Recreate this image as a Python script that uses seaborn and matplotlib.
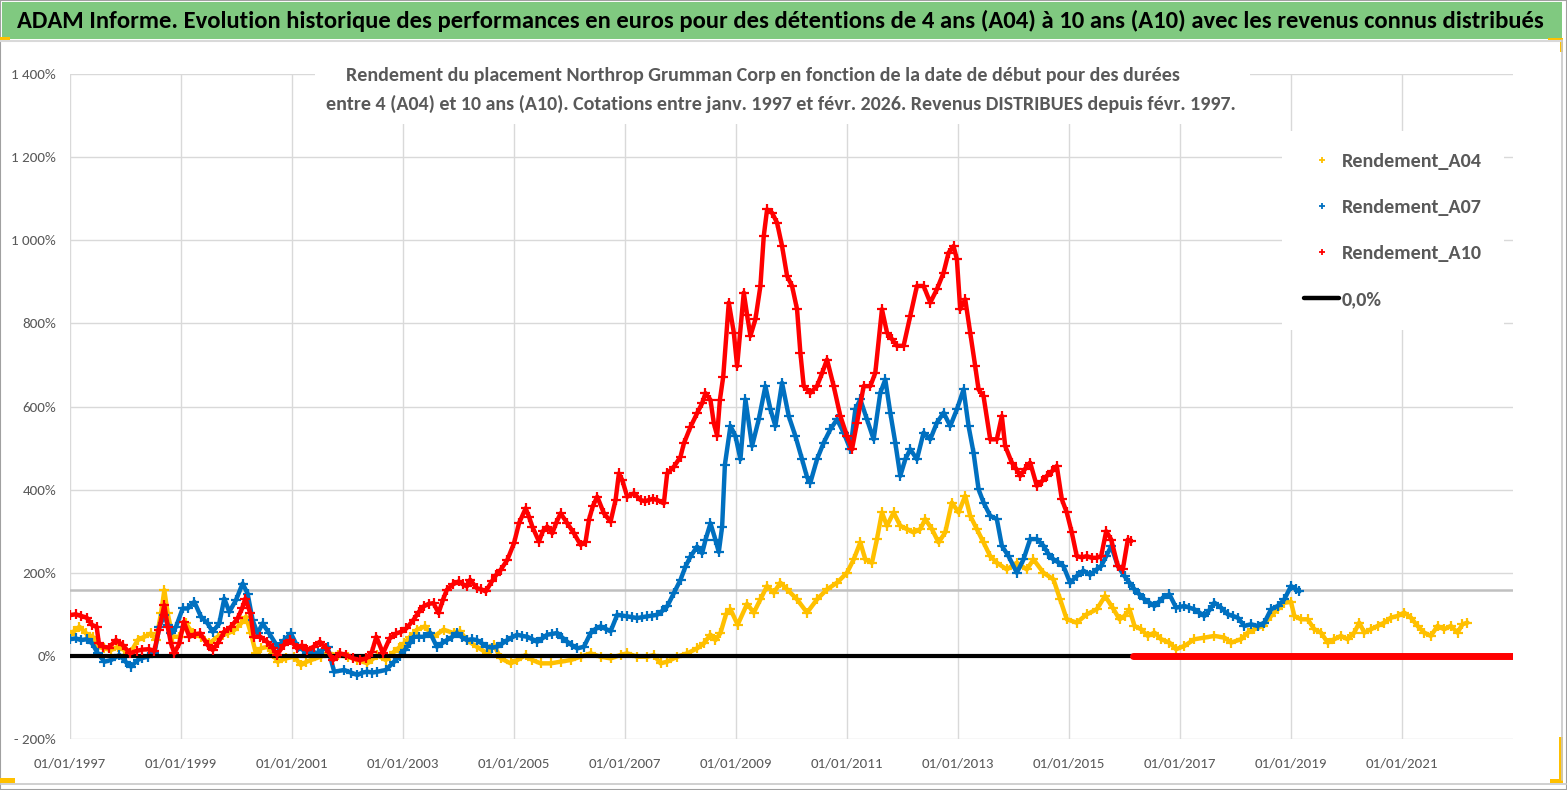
import matplotlib
matplotlib.use("Agg")
import matplotlib.pyplot as plt
import matplotlib.font_manager as fm
from matplotlib.patches import Rectangle
from matplotlib.lines import Line2D
import seaborn as sns
import pandas as pd

# ---------------- DATA ----------------
# (start date as decimal year, return in %)
a04_points = [
    (1997.00, 50), (1997.08, 60), (1997.17, 70), (1997.29, 54), (1997.41, 46), (1997.50, 22),
    (1997.62, 18), (1997.74, 14), (1997.86, 22), (1997.98, 14), (1998.10, 10), (1998.22, 38),
    (1998.34, 46), (1998.46, 54), (1998.55, 38), (1998.64, 102), (1998.70, 158), (1998.76, 102),
    (1998.85, 46), (1998.97, 46), (1999.09, 78), (1999.21, 54), (1999.36, 46), (1999.51, 30),
    (1999.66, 46), (1999.75, 50), (1999.84, 54), (1999.96, 62), (2000.08, 78), (2000.17, 94),
    (2000.26, 54), (2000.35, 6), (2000.44, 18), (2000.56, 22), (2000.65, 5), (2000.74, -14),
    (2000.89, -6), (2001.04, -2), (2001.16, -22), (2001.25, -15), (2001.34, -10), (2001.52, -2),
    (2001.64, 6), (2001.82, 2), (2002.00, -2), (2002.18, -10), (2002.36, -18), (2002.45, -8),
    (2002.54, 2), (2002.69, -10), (2002.84, 10), (2002.93, 20), (2003.02, 30), (2003.13, 46),
    (2003.25, 63), (2003.40, 71), (2003.55, 46), (2003.73, 63), (2003.91, 55), (2004.03, 59),
    (2004.15, 38), (2004.33, 22), (2004.52, 6), (2004.64, 26), (2004.76, -6), (2004.94, -18),
    (2005.06, -10), (2005.21, 2), (2005.33, -10), (2005.48, -18), (2005.66, -18), (2005.84, -14),
    (2006.02, -10), (2006.20, -2), (2006.38, 6), (2006.56, -2), (2006.74, -6), (2006.92, 2),
    (2007.04, 6), (2007.22, -2), (2007.40, -2), (2007.52, 2), (2007.64, -18), (2007.76, -14),
    (2007.94, -2), (2008.12, 6), (2008.30, 18), (2008.42, 30), (2008.54, 51), (2008.63, 38),
    (2008.72, 55), (2008.82, 100), (2008.90, 112), (2009.03, 75), (2009.20, 125), (2009.32, 104),
    (2009.44, 136), (2009.56, 168), (2009.68, 152), (2009.80, 176), (2009.92, 160), (2010.10, 136),
    (2010.28, 104), (2010.46, 136), (2010.64, 160), (2010.82, 176), (2011.00, 200), (2011.12, 232),
    (2011.24, 273), (2011.33, 232), (2011.45, 224), (2011.54, 281), (2011.63, 345), (2011.72, 313),
    (2011.84, 345), (2011.96, 313), (2012.08, 305), (2012.20, 297), (2012.32, 305), (2012.41, 329),
    (2012.53, 305), (2012.65, 273), (2012.77, 297), (2012.89, 369), (2013.01, 345), (2013.13, 385),
    (2013.22, 337), (2013.34, 305), (2013.46, 273), (2013.58, 240), (2013.70, 224), (2013.88, 208),
    (2014.06, 224), (2014.24, 208), (2014.36, 232), (2014.54, 200), (2014.72, 184), (2014.84, 136),
    (2014.96, 88), (2015.14, 80), (2015.32, 100), (2015.50, 112), (2015.65, 144), (2015.79, 115),
    (2015.91, 88), (2016.00, 96), (2016.09, 112), (2016.18, 72), (2016.30, 64), (2016.42, 48),
    (2016.54, 56), (2016.66, 40), (2016.81, 32), (2016.93, 16), (2017.08, 24), (2017.26, 40),
    (2017.44, 44), (2017.62, 48), (2017.80, 44), (2017.92, 32), (2018.10, 40), (2018.22, 56),
    (2018.34, 64), (2018.49, 72), (2018.64, 96), (2018.76, 112), (2018.88, 128), (2019.00, 130),
    (2019.06, 96), (2019.18, 88), (2019.30, 88), (2019.42, 64), (2019.54, 56), (2019.66, 32),
    (2019.78, 40), (2019.90, 48), (2020.02, 40), (2020.14, 56), (2020.23, 80), (2020.32, 56),
    (2020.44, 64), (2020.56, 72), (2020.68, 80), (2020.80, 92), (2020.92, 96), (2021.04, 104),
    (2021.16, 92), (2021.28, 72), (2021.40, 56), (2021.52, 48), (2021.64, 72), (2021.76, 64),
    (2021.88, 72), (2022.00, 56), (2022.09, 76), (2022.18, 80),
]

a07_points = [
    (1997.00, 40), (1997.10, 42), (1997.20, 38), (1997.30, 40), (1997.40, 30), (1997.50, 6),
    (1997.62, -14), (1997.74, -10), (1997.89, 2), (1998.00, -14), (1998.10, -26), (1998.22, -10),
    (1998.30, -5), (1998.40, -2), (1998.52, 6), (1998.61, 70), (1998.70, 98), (1998.76, 75),
    (1998.82, 54), (1998.91, 70), (1999.03, 114), (1999.12, 114), (1999.24, 130), (1999.36, 94),
    (1999.48, 78), (1999.57, 58), (1999.69, 78), (1999.78, 138), (1999.87, 106), (1999.99, 134),
    (2000.11, 174), (2000.20, 150), (2000.29, 86), (2000.38, 54), (2000.47, 78), (2000.59, 54),
    (2000.74, 22), (2000.86, 38), (2000.98, 54), (2001.10, 22), (2001.19, 15), (2001.28, 6),
    (2001.37, 10), (2001.46, 6), (2001.55, 15), (2001.64, 22), (2001.76, -38), (2001.94, -34),
    (2002.06, -40), (2002.18, -46), (2002.27, -40), (2002.36, -38), (2002.45, -40), (2002.54, -38),
    (2002.69, -34), (2002.84, -14), (2002.94, 0), (2003.03, 14), (2003.12, 30), (2003.19, 46),
    (2003.28, 46), (2003.37, 46), (2003.49, 55), (2003.61, 22), (2003.70, 30), (2003.79, 38),
    (2003.88, 45), (2003.97, 55), (2004.06, 45), (2004.15, 38), (2004.24, 40), (2004.33, 38),
    (2004.42, 30), (2004.52, 22), (2004.61, 20), (2004.70, 22), (2004.79, 30), (2004.88, 38),
    (2004.97, 45), (2005.06, 51), (2005.15, 48), (2005.24, 46), (2005.33, 40), (2005.42, 34),
    (2005.51, 42), (2005.60, 51), (2005.69, 53), (2005.78, 55), (2005.87, 44), (2005.96, 34),
    (2006.05, 25), (2006.14, 18), (2006.26, 22), (2006.38, 55), (2006.47, 65), (2006.56, 71),
    (2006.65, 65), (2006.74, 59), (2006.86, 99), (2006.95, 97), (2007.04, 95), (2007.13, 93),
    (2007.22, 91), (2007.31, 93), (2007.40, 95), (2007.49, 97), (2007.58, 99), (2007.67, 108),
    (2007.76, 119), (2007.88, 151), (2008.00, 183), (2008.09, 215), (2008.18, 239), (2008.30, 263),
    (2008.39, 247), (2008.45, 279), (2008.54, 319), (2008.63, 279), (2008.69, 250), (2008.75, 311),
    (2008.80, 460), (2008.90, 553), (2008.99, 529), (2009.08, 473), (2009.17, 617), (2009.29, 505),
    (2009.41, 569), (2009.53, 649), (2009.62, 593), (2009.71, 553), (2009.83, 657), (2009.95, 577),
    (2010.07, 529), (2010.19, 473), (2010.28, 430), (2010.34, 417), (2010.46, 473), (2010.58, 513),
    (2010.70, 545), (2010.82, 569), (2010.94, 537), (2011.06, 497), (2011.15, 593), (2011.24, 617),
    (2011.36, 569), (2011.48, 521), (2011.60, 633), (2011.69, 665), (2011.78, 585), (2011.87, 513),
    (2011.96, 433), (2012.05, 473), (2012.14, 497), (2012.26, 473), (2012.38, 537), (2012.50, 521),
    (2012.62, 561), (2012.74, 585), (2012.86, 553), (2012.98, 593), (2013.10, 641), (2013.19, 553),
    (2013.28, 489), (2013.37, 401), (2013.46, 369), (2013.58, 337), (2013.70, 329), (2013.79, 265),
    (2013.91, 240), (2014.06, 200), (2014.18, 232), (2014.30, 281), (2014.42, 281), (2014.54, 265),
    (2014.63, 245), (2014.72, 232), (2014.81, 225), (2014.90, 216), (2015.02, 176), (2015.14, 192),
    (2015.26, 205), (2015.38, 195), (2015.50, 208), (2015.58, 216), (2015.67, 240), (2015.76, 264),
    (2015.88, 216), (2016.00, 192), (2016.09, 176), (2016.18, 160), (2016.27, 148), (2016.36, 136),
    (2016.45, 128), (2016.54, 120), (2016.62, 130), (2016.69, 140), (2016.81, 148), (2016.93, 116),
    (2017.00, 118), (2017.08, 120), (2017.17, 116), (2017.26, 112), (2017.35, 104), (2017.44, 96),
    (2017.53, 110), (2017.62, 128), (2017.74, 116), (2017.86, 100), (2017.95, 96), (2018.04, 92),
    (2018.16, 72), (2018.28, 76), (2018.40, 72), (2018.52, 80), (2018.64, 112), (2018.76, 120),
    (2018.88, 136), (2019.00, 168), (2019.09, 160), (2019.15, 155),
]

a10_points = [
    (1997.00, 98), (1997.10, 100), (1997.20, 96), (1997.30, 92), (1997.40, 74), (1997.48, 70),
    (1997.52, 30), (1997.60, 22), (1997.70, 20), (1997.83, 38), (1997.95, 26), (1998.08, 6),
    (1998.20, 12), (1998.30, 15), (1998.42, 16), (1998.52, 12), (1998.60, 62), (1998.70, 122),
    (1998.76, 70), (1998.82, 30), (1998.88, 6), (1998.97, 30), (1999.05, 82), (1999.15, 46),
    (1999.25, 52), (1999.35, 54), (1999.48, 26), (1999.57, 14), (1999.66, 30), (1999.78, 58),
    (1999.90, 70), (2000.02, 90), (2000.10, 114), (2000.16, 138), (2000.25, 102), (2000.31, 46),
    (2000.43, 46), (2000.55, 34), (2000.65, 20), (2000.73, 2), (2000.85, 26), (2000.97, 38),
    (2001.09, 18), (2001.18, 25), (2001.27, 14), (2001.39, 22), (2001.50, 34), (2001.62, 18),
    (2001.74, -10), (2001.86, 6), (2001.98, 2), (2002.10, -6), (2002.22, -10), (2002.34, -6),
    (2002.44, 10), (2002.52, 46), (2002.64, 6), (2002.76, 42), (2002.88, 54), (2002.97, 58),
    (2003.06, 66), (2003.19, 87), (2003.28, 105), (2003.37, 119), (2003.46, 125), (2003.55, 127),
    (2003.64, 103), (2003.72, 135), (2003.79, 159), (2003.90, 172), (2004.00, 179), (2004.08, 172),
    (2004.15, 167), (2004.21, 183), (2004.33, 163), (2004.41, 160), (2004.49, 155), (2004.60, 179),
    (2004.68, 195), (2004.76, 207), (2004.88, 231), (2005.00, 271), (2005.09, 319), (2005.21, 355),
    (2005.27, 335), (2005.33, 311), (2005.45, 275), (2005.52, 300), (2005.60, 311), (2005.69, 295),
    (2005.76, 320), (2005.84, 343), (2005.96, 319), (2006.08, 295), (2006.20, 267), (2006.29, 275),
    (2006.35, 327), (2006.42, 360), (2006.50, 383), (2006.62, 343), (2006.74, 323), (2006.83, 375),
    (2006.89, 439), (2006.95, 423), (2007.04, 383), (2007.16, 391), (2007.28, 375), (2007.36, 372),
    (2007.43, 375), (2007.50, 378), (2007.58, 375), (2007.70, 367), (2007.76, 439), (2007.88, 455),
    (2008.00, 479), (2008.06, 511), (2008.18, 551), (2008.30, 584), (2008.39, 608), (2008.45, 632),
    (2008.54, 616), (2008.60, 560), (2008.66, 530), (2008.71, 616), (2008.77, 672), (2008.87, 850),
    (2008.96, 778), (2009.02, 697), (2009.14, 874), (2009.20, 820), (2009.26, 770), (2009.35, 810),
    (2009.44, 890), (2009.50, 1010), (2009.56, 1074), (2009.65, 1066), (2009.74, 1042), (2009.83, 986),
    (2009.92, 914), (2010.01, 890), (2010.10, 834), (2010.16, 729), (2010.22, 649), (2010.34, 633),
    (2010.46, 649), (2010.55, 680), (2010.64, 713), (2010.76, 649), (2010.88, 577), (2011.00, 529),
    (2011.09, 497), (2011.18, 561), (2011.30, 649), (2011.42, 649), (2011.51, 681), (2011.63, 834),
    (2011.72, 778), (2011.81, 762), (2011.90, 746), (2012.02, 746), (2012.14, 818), (2012.26, 890),
    (2012.38, 890), (2012.50, 850), (2012.62, 882), (2012.74, 922), (2012.83, 970), (2012.92, 986),
    (2012.98, 954), (2013.04, 834), (2013.13, 858), (2013.22, 778), (2013.31, 697), (2013.37, 641),
    (2013.46, 625), (2013.58, 521), (2013.70, 521), (2013.79, 577), (2013.85, 505), (2013.97, 465),
    (2014.05, 450), (2014.12, 433), (2014.21, 450), (2014.30, 465), (2014.42, 409), (2014.51, 420),
    (2014.60, 433), (2014.70, 445), (2014.78, 457), (2014.87, 377), (2014.96, 345), (2015.05, 297),
    (2015.14, 240), (2015.23, 237), (2015.32, 240), (2015.41, 236), (2015.50, 236), (2015.58, 240),
    (2015.67, 300), (2015.76, 280), (2015.88, 216), (2015.97, 208), (2016.06, 280), (2016.12, 276),
]

# After its last computable start date A10 is reported as 0 % up to the axis end
a10_zero_span = [2016.15, 2023.0]
zero_line_span = [1997.0, 2023.0]
reference_level = 159          # grey horizontal line (%)

series_names = ["Rendement_A04", "Rendement_A07", "Rendement_A10"]
series_colors = ["#FFC000", "#0070C0", "#FF0000"]

x_tick_years = list(range(1997, 2022, 2))
x_tick_labels = [f"01/01/{y}" for y in x_tick_years]
y_ticks = list(range(-200, 1401, 200))
y_tick_labels = ["- 200%", "0%", "200%", "400%", "600%", "800%", "1 000%", "1 200%", "1 400%"]

title_text = ("ADAM Informe. Evolution historique des performances en euros pour des détentions "
              "de 4 ans (A04) à 10 ans (A10) avec les revenus connus distribués")
subtitle_1 = "Rendement du placement Northrop Grumman Corp en fonction de la date de début pour des durées"
subtitle_2 = ("entre 4 (A04) et 10 ans (A10). Cotations entre janv. 1997 et févr. 2026. "
              "Revenus DISTRIBUES depuis févr. 1997.")

# ---------------- STYLE ----------------
sns.set_theme(style="white")
names = {f.name for f in fm.fontManager.ttflist}
FONT = "DejaVu Sans"
for cand in ["Carlito", "Liberation Sans Narrow", "Open Sans", "Noto Sans", "DejaVu Sans"]:
    if cand in names:
        FONT = cand
        break
plt.rcParams["font.family"] = [FONT, "DejaVu Sans"]
GREY_TXT = "#595959"

W, H = 1567, 790
fig = plt.figure(figsize=(W / 100, H / 100), dpi=100)
fig.patch.set_facecolor("white")


def fx(px):
    return px / W


def fy(py):
    return 1 - py / H


ax = fig.add_axes([fx(70), fy(739), fx(1513) - fx(70), fy(74) - fy(739)])
ax.set_facecolor("white")

renderer = fig.canvas.get_renderer()


def size_for(text, target_px, **kw):
    t = fig.text(0, 0, text, fontsize=20, **kw)
    w = t.get_window_extent(renderer).width
    t.remove()
    return 20 * target_px / w


# ---------------- DATA MARKS ----------------
frames = []
for name, pts in zip(series_names, [a04_points, a07_points, a10_points]):
    d = pd.DataFrame(pts, columns=["date", "value"])
    d["serie"] = name
    frames.append(d)

for i, (name, color) in enumerate(zip(series_names, series_colors)):
    d = frames[i]
    sns.lineplot(data=d, x="date", y="value", ax=ax, color=color, linewidth=3.2,
                 marker="+", markersize=7, markeredgewidth=1.6, markeredgecolor=color,
                 estimator=None, sort=False, zorder=3 + i if i < 2 else 6, legend=False)

zero_df = pd.DataFrame({"date": zero_line_span, "value": [0, 0]})
sns.lineplot(data=zero_df, x="date", y="value", ax=ax, color="black", linewidth=3,
             estimator=None, zorder=5, legend=False)
a10z = pd.DataFrame({"date": a10_zero_span, "value": [0, 0]})
sns.lineplot(data=a10z, x="date", y="value", ax=ax, color="#FF0000", linewidth=5,
             estimator=None, zorder=6, legend=False)
ax.axhline(reference_level, color="#c0c0c0", linewidth=1.8, zorder=1)

# ---------------- AXES ----------------
ax.set_xlim(1997.0, 2023.0)
ax.set_ylim(-200, 1400)
ax.set_xticks(x_tick_years)
ax.set_yticks(y_ticks)
xt_size = size_for("01/01/1997", 72)
yt_size = size_for("1 400%", 45)
ax.set_xticklabels(x_tick_labels, fontsize=xt_size, color=GREY_TXT)
ax.set_yticklabels(y_tick_labels, fontsize=yt_size, color=GREY_TXT)
ax.tick_params(axis="x", length=0, pad=13)
ax.tick_params(axis="y", length=0, pad=10)
ax.set_xlabel("")
ax.set_ylabel("")
for s in ax.spines.values():
    s.set_visible(False)
ax.grid(True, color="#d9d9d9", linewidth=1.0, zorder=0)
ax.set_axisbelow(True)

# ---------------- TEXT / DECORATION ----------------
fig.patches.append(Rectangle((fx(2), fy(39)), fx(1562) - fx(2), fy(2) - fy(39),
                             transform=fig.transFigure, facecolor="#80c980", edgecolor="none"))
fig.lines.append(Line2D([fx(0), fx(1562)], [fy(41), fy(41)], transform=fig.transFigure,
                        color="#d9d9d9", linewidth=1.5))
fig.lines.append(Line2D([fx(1562), fx(1562)], [fy(40), fy(780)], transform=fig.transFigure,
                        color="#c8c8c8", linewidth=1.2))
fig.lines.append(Line2D([fx(0), fx(1567)], [fy(784), fy(784)], transform=fig.transFigure,
                        color="#c8c8c8", linewidth=1.2))
fig.patches.append(Rectangle((0, 0), 1, 1, transform=fig.transFigure, fill=False,
                             edgecolor="#a0a0a0", linewidth=1.5))
for (x0, y0, w, h) in [(0, 37, 10, 3), (1548, 38, 15, 3), (1560, 38, 3, 14),
                       (1559, 737, 4, 46), (1550, 779, 13, 4), (0, 778, 15, 5)]:
    fig.patches.append(Rectangle((fx(x0), fy(y0 + h)), fx(w), h / H,
                                 transform=fig.transFigure, facecolor="#FFC000", edgecolor="none"))

t_size = size_for(title_text, 1530, fontweight="semibold")
fig.text(fx(780), fy(21), title_text, fontsize=t_size, fontweight="semibold", color="black",
         ha="center", va="center")

ax.add_patch(Rectangle((fx(315), fy(124)), fx(1250) - fx(315), fy(58) - fy(124),
                       transform=fig.transFigure, facecolor="white", edgecolor="none",
                       zorder=7, clip_on=False))
s_size = size_for(subtitle_2, 912, fontweight="bold")
fig.text(fx(763), fy(75), subtitle_1, fontsize=s_size, fontweight="bold", color=GREY_TXT,
         ha="center", va="center")
fig.text(fx(781), fy(104), subtitle_2, fontsize=s_size, fontweight="bold", color=GREY_TXT,
         ha="center", va="center")

# ---------------- LEGEND ----------------
l_size = size_for("Rendement_A04", 140, fontweight="bold")
handles = [Line2D([], [], linestyle="none", marker="+", markersize=5, markeredgewidth=1.3,
                  color=c) for c in series_colors]
handles.append(Line2D([], [], color="black", linewidth=3.2))
labels = series_names + ["0,0%"]
px_per_pt = 100 / 72
fs_px = l_size * px_per_pt
leg = fig.legend(handles, labels, loc="upper left",
                 bbox_to_anchor=(fx(1282), fy(131)), bbox_transform=fig.transFigure,
                 frameon=True, facecolor="white", edgecolor="none", fancybox=False,
                 framealpha=1.0, borderaxespad=0, borderpad=1.1,
                 handlelength=35 / fs_px, handletextpad=3 / fs_px,
                 labelspacing=(46 - 1.25 * fs_px + 8) / fs_px,
                 prop={"family": [FONT, "DejaVu Sans"], "weight": "bold", "size": l_size})
for txt in leg.get_texts():
    txt.set_color(GREY_TXT)

fig.savefig("out.png", dpi=100, facecolor="white")
